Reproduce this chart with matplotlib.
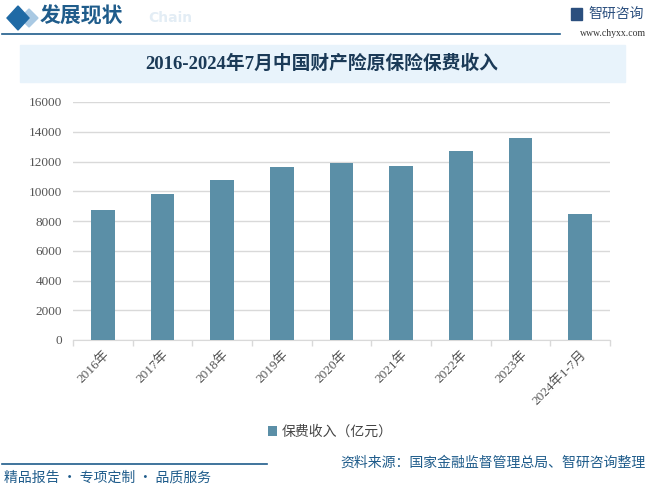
import matplotlib
matplotlib.use("Agg")
import matplotlib.pyplot as plt
from matplotlib.patches import Rectangle, Polygon
import numpy as np

categories = ["2016年", "2017年", "2018年", "2019年", "2020年", "2021年", "2022年", "2023年", "2024年1-7月"]
values = [8724.5, 9834.7, 10770.1, 11649.0, 11929.0, 11671.0, 12712.0, 13607.0, 8480.0]
yticks = [0, 2000, 4000, 6000, 8000, 10000, 12000, 14000, 16000]

title = "2016-2024年7月中国财产险原保险保费收入"
legend_label = "保费收入（亿元）"
source = "资料来源：国家金融监督管理总局、智研咨询整理"
slogan = "精品报告 · 专项定制 · 品质服务"

CJK = ["Noto Sans CJK SC", "DejaVu Sans"]
SERIF = ["Liberation Serif", "Noto Sans CJK SC"]
bar_color = "#5b8fa7"
dark_blue = "#1f5c8b"

W, H = 650, 487
fig = plt.figure(figsize=(6.5, 4.87), dpi=100)

def fx(x):
    return x / W

def fy(y):
    return 1 - y / H

# header
fig.patches.append(Polygon([[fx(20), fy(18)], [fx(29), fy(9)], [fx(38), fy(18)], [fx(29), fy(27)]],
                           closed=True, transform=fig.transFigure, color="#a9c9e3", zorder=0))
fig.patches.append(Polygon([[fx(7), fy(18)], [fx(18), fy(6)], [fx(29), fy(18)], [fx(18), fy(30)]],
                           closed=True, transform=fig.transFigure, color="#1f6aa5"))
fig.text(fx(40), fy(16), "发展现状", family=CJK, fontsize=15, fontweight="bold",
         color="#1f5c8b", va="center", ha="left")
fig.text(fx(148), fy(18), "Chain", family=["DejaVu Sans"], fontsize=10, fontweight="bold",
         color="#e3edf5", va="center", ha="left")
fig.lines.append(plt.Line2D([fx(2), fx(560)], [fy(34), fy(34)], transform=fig.transFigure,
                            color=dark_blue, lw=1.2))
# logo
fig.patches.append(Rectangle((fx(571), fy(20)), fx(11), 12 / H, transform=fig.transFigure,
                             color="#2b4f7e"))
fig.text(fx(588), fy(14), "智研咨询", family=CJK, fontsize=10, color="#2b4f7e", va="center", ha="left")
fig.text(fx(646), fy(34), "www.chyxx.com", family=["Liberation Serif"], fontsize=7,
         color="#333333", va="center", ha="right")

# title band
fig.patches.append(Rectangle((fx(20), fy(82)), fx(605), 37 / H, transform=fig.transFigure,
                             color="#e8f3fb", zorder=0))
fig.text(fx(322), fy(64), title, family=SERIF, fontsize=13.5, fontweight="bold",
         color="#1b3a57", va="center", ha="center")

# chart
ax = fig.add_axes([fx(73), fy(340), (610 - 73) / W, (340 - 102) / H])
x = np.arange(len(categories))
ax.bar(x, values, width=0.4, color=bar_color, label=legend_label, zorder=3)
ax.set_xlim(-0.5, len(categories) - 0.5)
ax.set_ylim(0, 16000)
ax.set_yticks(yticks)
ax.set_yticklabels([str(v) for v in yticks], family=SERIF, fontsize=9.5, color="#555555")
ax.yaxis.grid(True, color="#d9d9d9", lw=1, zorder=0)
ax.tick_params(axis="y", length=0, pad=8)
ax.set_xticks(x)
ax.set_xticklabels(categories, family=SERIF, fontsize=9.5, color="#555555",
                   rotation=45, ha="right", rotation_mode="anchor")
ax.tick_params(axis="x", which="major", length=0, pad=6)
ax.set_xticks(np.arange(-0.5, len(categories), 1), minor=True)
ax.tick_params(axis="x", which="minor", length=4, color="#d9d9d9", width=1)
for s in ["left", "right", "top"]:
    ax.spines[s].set_visible(False)
ax.spines["bottom"].set_color("#d9d9d9")

leg = ax.legend(loc="center", bbox_to_anchor=(fx(330), fy(432)), bbox_transform=fig.transFigure,
                frameon=False, prop={"family": CJK, "size": 10}, handlelength=0.7,
                handleheight=0.7, handletextpad=0.3)
for t in leg.get_texts():
    t.set_color("#444444")

# footer
fig.lines.append(plt.Line2D([fx(2), fx(267)], [fy(464), fy(464)], transform=fig.transFigure,
                            color=dark_blue, lw=1.2))
fig.text(fx(4), fy(478), slogan, family=CJK, fontsize=10, color=dark_blue, va="center", ha="left")
fig.text(fx(646), fy(463), source, family=CJK, fontsize=10, color=dark_blue, va="center", ha="right")

fig.savefig("out.png", dpi=100)
